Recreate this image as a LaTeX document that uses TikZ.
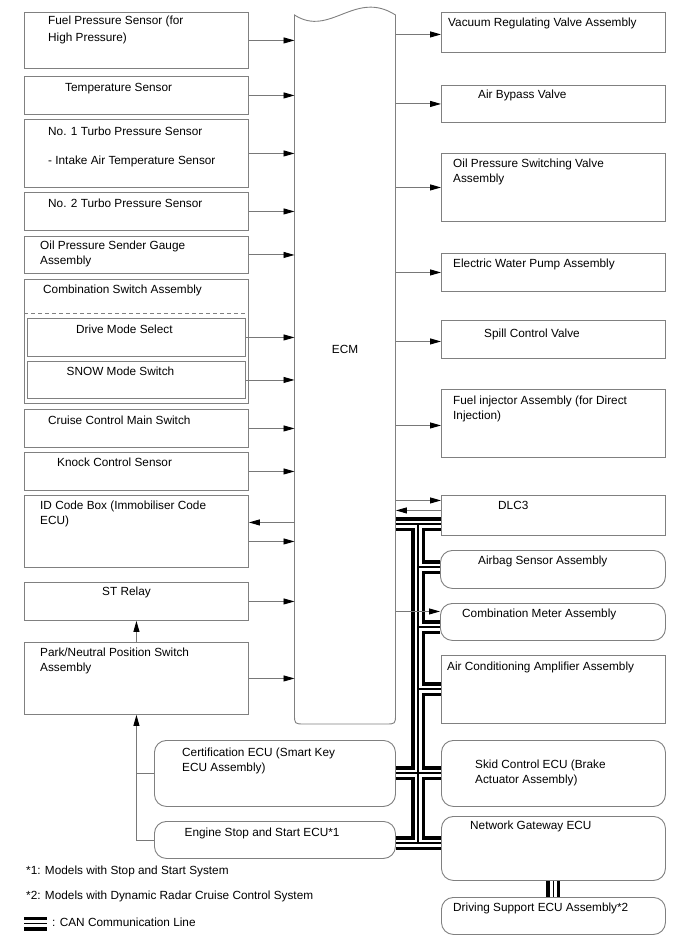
\documentclass[tikz,border=0pt]{standalone}
\usepackage{fontspec}
\setmainfont{Liberation Sans}
\usetikzlibrary{arrows.meta}
\definecolor{bordergray}{RGB}{128,128,128}
\definecolor{linegray}{RGB}{120,120,120}
\newcommand\mystrut{\rule{0pt}{10pt}}
\newcommand\canpaths[1]{%
  \draw[#1] (ecm.east |- bj0) -- (dlc.west |- bj0);
  \draw[#1] (bj0) -- (bj5);
  \draw[#1] (bj1) -- (airbag.west |- bj1);
  \draw[#1] (bj2) -- (cmeter.west |- bj2);
  \draw[#1] (bj3) -- (ac.west |- bj3);
  \draw[#1] (cert.east |- bj4) -- (skid.west |- bj4);
  \draw[#1] (eng.east |- bj5) -- (ngw.west |- bj5);
  \draw[#1] (ngw.south) -- (dse.north);
  \draw[#1] (legL) -- (legR);
}
\begin{document}
\begin{tikzpicture}[x=1pt,y=-1pt,
  box/.style={draw=bordergray, line width=0.9pt, inner sep=0pt, anchor=north west},
  rbox/.style={box, rounded corners=12pt},
  txt/.style={anchor=north west, inner sep=0pt, align=left, font=\fontsize{11.8}{14.7}\selectfont},
  conn/.style={draw=linegray, line width=0.9pt},
  arr/.style={conn, -{Triangle[length=11pt,width=6pt,color=black]}},
  canA/.style={line width=14pt, black},
  canB/.style={line width=7pt, white},
  canC/.style={line width=1.2pt, black},
]
\fill[white] (0,0) rectangle (688,949);
\useasboundingbox (0,0) rectangle (688,949);

% ECM
\node[inner sep=0pt, anchor=north west, minimum width=101pt, minimum height=709pt] (ecm) at (294.5,15) {};
\draw[conn, draw=bordergray] (294.5,15) .. controls (330,38) and (355,-11) .. (395.5,15)
  -- (395.5,714) .. controls (395.5,724) .. (385.5,724) -- (304.5,724)
  .. controls (294.5,724) .. (294.5,714) -- cycle;
\node[inner sep=0pt, font=\fontsize{11.8}{14.7}\selectfont] (ecmlabel) at (345,349) {ECM};

% left boxes
\node[box, minimum width=224pt, minimum height=56pt] (fps) at (24,12) {};
\node[box, minimum width=224pt, minimum height=38pt] (temp) at (24,76) {};
\node[box, minimum width=224pt, minimum height=68pt] (tp1) at (24,119) {};
\node[box, minimum width=224pt, minimum height=38pt] (tp2) at (24,192) {};
\node[box, minimum width=224pt, minimum height=37pt] (oil) at (24,236) {};
\node[box, minimum width=224pt, minimum height=124pt] (comb) at (24,279) {};
\node[box, minimum width=218pt, minimum height=38pt] (dms) at (27,318) {};
\node[box, minimum width=218pt, minimum height=37pt] (snow) at (27,361) {};
\node[box, minimum width=224pt, minimum height=38pt] (cruise) at (24,409) {};
\node[box, minimum width=224pt, minimum height=38pt] (knock) at (24,452) {};
\node[box, minimum width=224pt, minimum height=72pt] (idc) at (24,495) {};
\node[box, minimum width=224pt, minimum height=38pt] (st) at (24,582) {};
\node[box, minimum width=224pt, minimum height=72pt] (park) at (24,642) {};
\node[rbox, minimum width=241pt, minimum height=66pt] (cert) at (154,740) {};
\node[rbox, minimum width=241pt, minimum height=37pt] (eng) at (154,821) {};
\draw[conn, draw=bordergray, dash pattern=on 4pt off 3pt] ([yshift=-34pt]comb.north west) -- ([yshift=-34pt]comb.north east);

% right boxes
\node[box, minimum width=224pt, minimum height=40pt] (vac) at (441,12) {};
\node[box, minimum width=224pt, minimum height=37pt] (abv) at (441,85) {};
\node[box, minimum width=224pt, minimum height=68pt] (opsv) at (441,153) {};
\node[box, minimum width=224pt, minimum height=38pt] (ewp) at (441,253) {};
\node[box, minimum width=224pt, minimum height=38pt] (spill) at (441,320) {};
\node[box, minimum width=224pt, minimum height=68pt] (finj) at (441,389) {};
\node[box, minimum width=224pt, minimum height=40pt] (dlc) at (441,495) {};
\node[rbox, minimum width=225pt, minimum height=38pt] (airbag) at (440,550) {};
\node[rbox, minimum width=225pt, minimum height=37pt] (cmeter) at (440,603) {};
\node[box, minimum width=224pt, minimum height=68pt] (ac) at (441,655) {};
\node[rbox, minimum width=224pt, minimum height=66pt] (skid) at (441,740) {};
\node[rbox, minimum width=224pt, minimum height=64pt] (ngw) at (441,816) {};
\node[rbox, minimum width=224pt, minimum height=37pt] (dse) at (441,897) {};

% CAN bus
\coordinate (bj0) at (418,524);
\coordinate (bj1) at (418,567);
\coordinate (bj2) at (418,627);
\coordinate (bj3) at (418,689);
\coordinate (bj4) at (418,773);
\coordinate (bj5) at (418,843);
\coordinate (legL) at (24,923.7);
\coordinate (legR) at (47,923.7);
\canpaths{canA}
\canpaths{canB}
\canpaths{canC}

% texts
\node[txt] (tfps) at (48,14.2) {\mystrut Fuel Pressure Sensor (for\\[2.5pt]High Pressure)};
\node[txt] (ttemp) at (65,81.2) {\mystrut Temperature Sensor};
\node[txt] (ttp1) at (48,125.2) {\mystrut No. 1 Turbo Pressure Sensor\\[14.3pt]- Intake Air Temperature Sensor};
\node[txt] (ttp2) at (48,197.2) {\mystrut No. 2 Turbo Pressure Sensor};
\node[txt] (toil) at (40,239.2) {\mystrut Oil Pressure Sender Gauge\\Assembly};
\node[txt] (tcomb) at (43,283.2) {\mystrut Combination Switch Assembly};
\node[txt] (tdms) at (76,323.2) {\mystrut Drive Mode Select};
\node[txt] (tsnow) at (66.5,365.7) {\mystrut SNOW Mode Switch};
\node[txt] (tcruise) at (48,414.2) {\mystrut Cruise Control Main Switch};
\node[txt] (tknock) at (57,456.2) {\mystrut Knock Control Sensor};
\node[txt] (tidc) at (40,499.2) {\mystrut ID Code Box (Immobiliser Code\\ECU)};
\node[txt] (tst) at (102,585.2) {\mystrut ST Relay};
\node[txt] (tpark) at (40,646.2) {\mystrut Park/Neutral Position Switch\\Assembly};
\node[txt] (tcert) at (182,746.2) {\mystrut Certification ECU (Smart Key\\ECU Assembly)};
\node[txt] (teng) at (184.5,826.2) {\mystrut Engine Stop and Start ECU*1};
\node[txt] (tvac) at (448,16.2) {\mystrut Vacuum Regulating Valve Assembly};
\node[txt] (tabv) at (478,88.2) {\mystrut Air Bypass Valve};
\node[txt] (topsv) at (453,157.2) {\mystrut Oil Pressure Switching Valve\\Assembly};
\node[txt] (tewp) at (453,257.2) {\mystrut Electric Water Pump Assembly};
\node[txt] (tspill) at (484,327.2) {\mystrut Spill Control Valve};
\node[txt] (tfinj) at (453,394.2) {\mystrut Fuel injector Assembly (for Direct\\Injection)};
\node[txt] (tdlc) at (498,499.2) {\mystrut DLC3};
\node[txt] (tairbag) at (478,554.2) {\mystrut Airbag Sensor Assembly};
\node[txt] (tcmeter) at (462,607.2) {\mystrut Combination Meter Assembly};
\node[txt] (tac) at (447,660.7) {\mystrut Air Conditioning Amplifier Assembly};
\node[txt] (tskid) at (475,758.2) {\mystrut Skid Control ECU (Brake\\Actuator Assembly)};
\node[txt] (tngw) at (470,819.2) {\mystrut Network Gateway ECU};
\node[txt] (tdse) at (453,901.2) {\mystrut Driving Support ECU Assembly*2};
\node[txt] (note1) at (26,864.2) {\mystrut *1: Models with Stop and Start System};
\node[txt] (note2) at (26,889.2) {\mystrut *2: Models with Dynamic Radar Cruise Control System};
\node[txt] (legtxt) at (52,916.7) {\mystrut : CAN Communication Line};

% arrows into ECM
\draw[arr] (fps.east) -- (fps.east -| ecm.west);
\draw[arr] (temp.east) -- (temp.east -| ecm.west);
\draw[arr] (tp1.east) -- (tp1.east -| ecm.west);
\draw[arr] (tp2.east) -- (tp2.east -| ecm.west);
\draw[arr] (oil.east) -- (oil.east -| ecm.west);
\draw[arr] (dms.east) -- (dms.east -| ecm.west);
\draw[arr] (snow.east) -- (snow.east -| ecm.west);
\draw[arr] (cruise.east) -- (cruise.east -| ecm.west);
\draw[arr] (knock.east) -- (knock.east -| ecm.west);
\draw[arr] ([yshift=9pt]idc.east -| ecm.west) -- ([yshift=9pt]idc.east);
\draw[arr] ([yshift=-10pt]idc.east) -- ([yshift=-10pt]idc.east -| ecm.west);
\draw[arr] (st.east) -- (st.east -| ecm.west);
\draw[arr] (park.east) -- (park.east -| ecm.west);
\draw[arr] (park.north) -- (st.south);
\draw[arr] (eng.west) -| (park.south);
\draw[conn] (cert.west) -- (cert.west -| park.south);

% arrows out of ECM
\draw[arr] ([yshift=-2pt]vac.west -| ecm.east) -- ([yshift=-2pt]vac.west);
\draw[arr] (abv.west -| ecm.east) -- (abv.west);
\draw[arr] (opsv.west -| ecm.east) -- (opsv.west);
\draw[arr] (ewp.west -| ecm.east) -- (ewp.west);
\draw[arr] ([yshift=-2pt]spill.west -| ecm.east) -- ([yshift=-2pt]spill.west);
\draw[arr] ([yshift=-2pt]finj.west -| ecm.east) -- ([yshift=-2pt]finj.west);
\draw[arr] ([yshift=15pt]dlc.west -| ecm.east) -- ([yshift=15pt]dlc.west);
\draw[arr] ([yshift=5pt]dlc.west) -- ([yshift=5pt]dlc.west -| ecm.east);
\draw[arr] ([yshift=10.5pt]cmeter.west -| ecm.east) -- ([yshift=10.5pt]cmeter.west);
\end{tikzpicture}
\end{document}
